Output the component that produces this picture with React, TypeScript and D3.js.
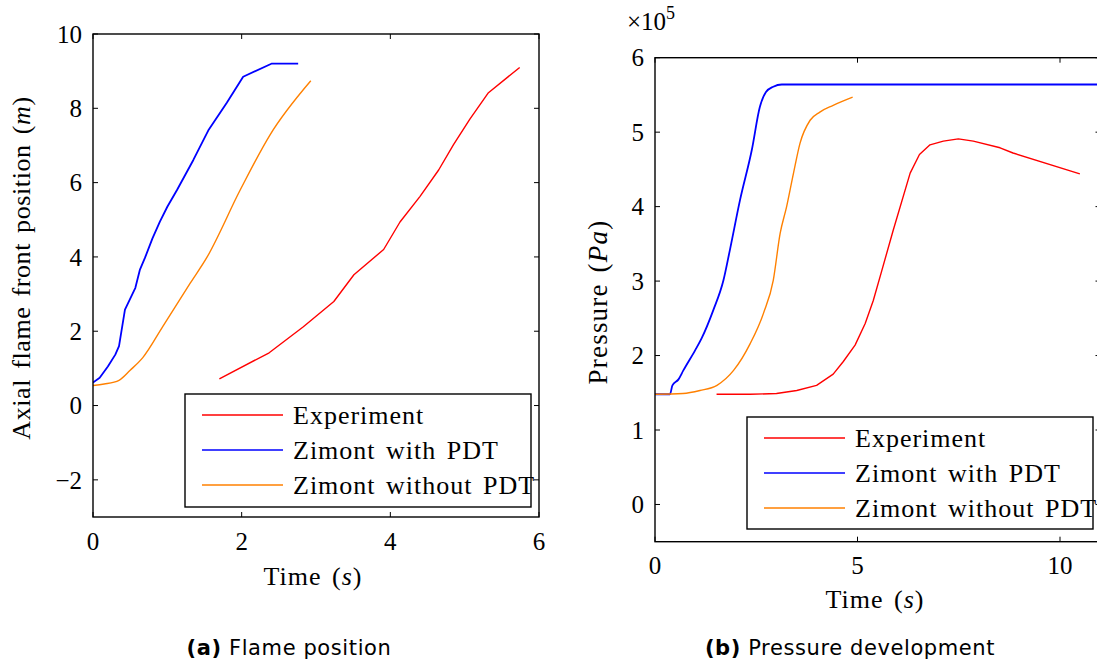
import React from "react";
import * as d3 from "d3";

// ---- Panel (a): flame position ----
const flameExpT = [1.7, 2.37, 2.83, 3.24, 3.51, 3.91, 4.13, 4.4, 4.65, 4.85, 5.07, 5.32, 5.74];
const flameExpY = [0.72, 1.42, 2.12, 2.8, 3.52, 4.2, 4.94, 5.63, 6.34, 7.02, 7.71, 8.42, 9.1];
const flameWithT = [0, 0.09, 0.2, 0.3, 0.35, 0.43, 0.57, 0.63, 0.7, 0.8, 0.9, 1.0, 1.13, 1.35, 1.55, 1.8, 2.02, 2.4, 2.76];
const flameWithY = [0.62, 0.75, 1.05, 1.37, 1.6, 2.58, 3.17, 3.65, 3.98, 4.5, 4.95, 5.35, 5.8, 6.61, 7.4, 8.15, 8.85, 9.2, 9.2];
const flameWithoutT = [0, 0.15, 0.35, 0.5, 0.67, 0.94, 1.31, 1.53, 1.98, 2.38, 2.93];
const flameWithoutY = [0.54, 0.58, 0.68, 0.95, 1.29, 2.13, 3.3, 3.98, 5.8, 7.28, 8.74];
const flameXTicks = [0, 2, 4, 6];
const flameYTicks = [-2, 0, 2, 4, 6, 8, 10];

// ---- Panel (b): pressure development (x 1e5 Pa) ----
const presExpT = [1.52, 2.35, 3.0, 3.5, 3.99, 4.4, 4.65, 4.94, 5.19, 5.39, 5.6, 5.88, 6.3, 6.53, 6.79, 7.12, 7.49, 7.86, 8.52, 8.84, 10.49];
const presExpY = [1.48, 1.48, 1.49, 1.53, 1.6, 1.75, 1.92, 2.14, 2.43, 2.74, 3.14, 3.68, 4.45, 4.7, 4.83, 4.88, 4.91, 4.88, 4.79, 4.72, 4.44];
const presWithT = [0, 0.37, 0.43, 0.58, 0.7, 0.99, 1.15, 1.44, 1.69, 1.85, 2.1, 2.39, 2.59, 2.74, 2.92, 3.13, 11];
const presWithY = [1.48, 1.48, 1.6, 1.68, 1.8, 2.07, 2.23, 2.61, 3.01, 3.42, 4.09, 4.76, 5.34, 5.54, 5.61, 5.64, 5.64];
const presWithoutT = [0, 0.69, 1.11, 1.53, 1.94, 2.35, 2.68, 2.92, 3.09, 3.25, 3.42, 3.58, 3.83, 4.07, 4.4, 4.88];
const presWithoutY = [1.48, 1.49, 1.53, 1.6, 1.8, 2.16, 2.57, 3.01, 3.64, 4.0, 4.45, 4.85, 5.16, 5.27, 5.36, 5.47];
const presXTicks = [0, 5, 10];
const presYTicks = [0, 1, 2, 3, 4, 5, 6];

const seriesNames = ["Experiment", "Zimont with PDT", "Zimont without PDT"];
const seriesColors = ["#ff0000", "#0000ff", "#ff8000"];
const seriesWidths = [1.4, 1.8, 1.4];

const SERIF = "'Liberation Serif', 'Times New Roman', serif";
const SANS = "'DejaVu Sans', 'Liberation Sans', sans-serif";

type PanelProps = {
  left: number; right: number; top: number; bottom: number;
  xDomain: [number, number]; yDomain: [number, number];
  xTicks: number[]; yTicks: number[];
  series: { t: number[]; y: number[] }[];
  smooth: boolean[];
  legend: { x: number; y: number; w: number; h: number };
  xLabelX: number; xLabelY: number; xTickLabelY: number;
  clipId: string;
};

function fmt(t: number) {
  return t < 0 ? "\u2212" + Math.abs(t) : String(t);
}

function Panel(p: PanelProps) {
  const x = d3.scaleLinear().domain(p.xDomain).range([p.left, p.right]);
  const y = d3.scaleLinear().domain(p.yDomain).range([p.bottom, p.top]);
  const tl = 5;
  const rowH = 35;
  return (
    <g>
      <defs>
        <clipPath id={p.clipId}>
          <rect x={p.left} y={p.top} width={p.right - p.left} height={p.bottom - p.top} />
        </clipPath>
      </defs>
      <g clipPath={`url(#${p.clipId})`}>
        {p.series.map((s, i) => {
          const line = d3.line<[number, number]>()
            .x(d => x(d[0])).y(d => y(d[1]))
            .curve(p.smooth[i] ? d3.curveMonotoneX : d3.curveLinear);
          return (
            <path key={i} d={line(s.t.map((t, k) => [t, s.y[k]] as [number, number])) || ""}
              fill="none" stroke={seriesColors[i]} strokeWidth={seriesWidths[i]} strokeLinejoin="round" />
          );
        })}
      </g>
      {p.xTicks.map(t => (
        <g key={"x" + t}>
          <line x1={x(t)} x2={x(t)} y1={p.bottom} y2={p.bottom - tl} stroke="#000" strokeWidth={1} />
          <line x1={x(t)} x2={x(t)} y1={p.top} y2={p.top + tl} stroke="#000" strokeWidth={1} />
          <text x={x(t)} y={p.xTickLabelY} textAnchor="middle" fontFamily={SERIF} fontSize={25}>{fmt(t)}</text>
        </g>
      ))}
      {p.yTicks.map(t => (
        <g key={"y" + t}>
          <line x1={p.left} x2={p.left + tl} y1={y(t)} y2={y(t)} stroke="#000" strokeWidth={1} />
          <line x1={p.right} x2={p.right - tl} y1={y(t)} y2={y(t)} stroke="#000" strokeWidth={1} />
          <text x={p.left - 11} y={y(t)} dy="0.35em" textAnchor="end" fontFamily={SERIF} fontSize={25}>{fmt(t)}</text>
        </g>
      ))}
      <rect x={p.left} y={p.top} width={p.right - p.left} height={p.bottom - p.top} fill="none" stroke="#000" strokeWidth={1.4} />
      <rect x={p.legend.x} y={p.legend.y} width={p.legend.w} height={p.legend.h} fill="#fff" stroke="#000" strokeWidth={1.4} />
      {seriesNames.map((n, i) => {
        const cy = p.legend.y + 21 + i * rowH;
        return (
          <g key={n}>
            <line x1={p.legend.x + 17} x2={p.legend.x + 98} y1={cy} y2={cy} stroke={seriesColors[i]} strokeWidth={1.4} />
            <text x={p.legend.x + 108} y={cy} dy="0.33em" fontFamily={SERIF} fontSize={26} letterSpacing={1} wordSpacing={3}>{n}</text>
          </g>
        );
      })}
      <text x={p.xLabelX} y={p.xLabelY} textAnchor="middle" fontFamily={SERIF} fontSize={26} letterSpacing={1} wordSpacing={3}>
        Time (<tspan fontStyle="italic">s</tspan>)
      </text>
    </g>
  );
}

export default function App() {
  return (
    <div style={{ position: "absolute", left: 0, top: 0 }}>
      <svg width={1097} height={664} style={{ display: "block", background: "#fff" }}>
        <Panel left={93} right={539} top={34} bottom={517}
          xDomain={[0, 6]} yDomain={[-3, 10]} xTicks={flameXTicks} yTicks={flameYTicks}
          series={[{ t: flameExpT, y: flameExpY }, { t: flameWithT, y: flameWithY }, { t: flameWithoutT, y: flameWithoutY }]}
          smooth={[false, false, true]}
          legend={{ x: 185, y: 394, w: 346, h: 113 }}
          xLabelX={313} xTickLabelY={550} xLabelY={585} clipId="c1" />
        <text transform="translate(30,268) rotate(-90)" textAnchor="middle" fontFamily={SERIF} fontSize={26} letterSpacing={0.6} wordSpacing={3}>
          Axial flame front position (<tspan fontStyle="italic">m</tspan>)
        </text>
        <text x={289} y={655} textAnchor="middle" fontFamily={SANS} fontSize={21} letterSpacing={0.6}>
          <tspan fontWeight="bold">(a)</tspan> Flame position
        </text>

        <Panel left={655} right={1100.5} top={57.7} bottom={541.7}
          xDomain={[0, 11]} yDomain={[-0.5, 6]} xTicks={presXTicks} yTicks={presYTicks}
          series={[{ t: presExpT, y: presExpY }, { t: presWithT, y: presWithY }, { t: presWithoutT, y: presWithoutY }]}
          smooth={[false, true, true]}
          legend={{ x: 747, y: 417, w: 346, h: 112 }}
          xLabelX={875} xTickLabelY={574} xLabelY={608} clipId="c2" />
        <text transform="translate(607,302) rotate(-90)" textAnchor="middle" fontFamily={SERIF} fontSize={27} letterSpacing={1.2} wordSpacing={3}>
          Pressure (<tspan fontStyle="italic">Pa</tspan>)
        </text>
        <text x={627} y={30} fontFamily={SERIF} fontSize={25}>
          ×10<tspan dy={-11} fontSize={18}>5</tspan>
        </text>
        <text x={850} y={655} textAnchor="middle" fontFamily={SANS} fontSize={21} letterSpacing={0.6}>
          <tspan fontWeight="bold">(b)</tspan> Pressure development
        </text>
      </svg>
    </div>
  );
}
